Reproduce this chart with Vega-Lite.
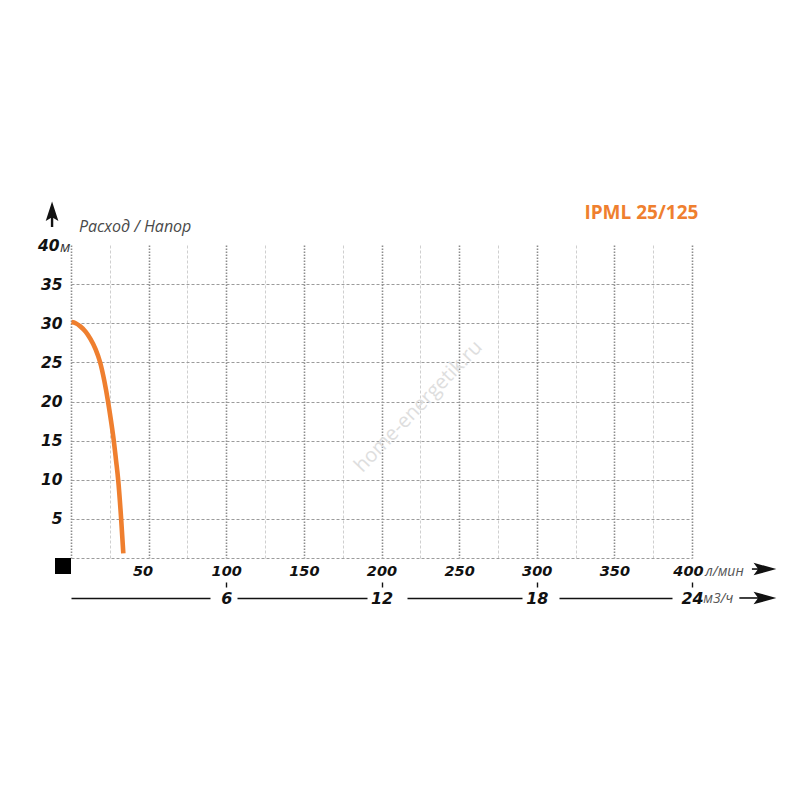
{
  "$schema": "https://vega.github.io/schema/vega-lite/v6.json",
  "width": 621,
  "height": 313,
  "autosize": {"type": "none"},
  "padding": {"left": 71, "top": 245, "right": 108, "bottom": 242},
  "background": "white",
  "config": {
    "view": {"stroke": null},
    "axis": {"labelFont": "DejaVu Sans", "labelFontWeight": "bold", "labelFontStyle": "italic", "labelFontSize": 14.5, "labelColor": "#111111"}
  },
  "resolve": {"axis": {"x": "independent", "y": "independent"}},
  "layer": [
    {
      "data": {"values": [
        {"q": 0.3, "h": 30.15},
        {"q": 3, "h": 30.0},
        {"q": 6, "h": 29.6},
        {"q": 9.5, "h": 28.9},
        {"q": 12.5, "h": 28.0},
        {"q": 15.8, "h": 26.7},
        {"q": 18.7, "h": 25.05},
        {"q": 21.5, "h": 22.6},
        {"q": 23.8, "h": 20.06},
        {"q": 25.8, "h": 17.5},
        {"q": 27.5, "h": 15.08},
        {"q": 29.0, "h": 12.5},
        {"q": 30.4, "h": 9.97},
        {"q": 32.3, "h": 5.0},
        {"q": 33.7, "h": 0.6}
      ]},
      "mark": {"type": "line", "color": "#EF7F2F", "strokeWidth": 4.6, "interpolate": "monotone", "strokeCap": "butt"},
      "encoding": {
        "x": {
          "field": "q", "type": "quantitative",
          "scale": {"domain": [0, 400], "nice": false},
          "axis": {
            "orient": "bottom",
            "values": [0, 25, 50, 75, 100, 125, 150, 175, 200, 225, 250, 275, 300, 325, 350, 375, 400],
            "grid": true, "domain": false, "ticks": false, "tickSize": 0, "labelPadding": 6,
            "labelExpr": "datum.value % 50 === 0 && datum.value > 0 ? datum.label : ''",
            "gridColor": {"condition": {"test": "datum.value % 50 === 0", "value": "#8c8c8c"}, "value": "#cfcfcf"},
            "gridDash": {"condition": {"test": "datum.value % 50 === 0", "value": [1.6, 1.4]}, "value": [3, 2]},
            "gridWidth": {"condition": {"test": "datum.value % 50 === 0", "value": 1.6}, "value": 1},
            "labelOffset": {"condition": [{"test": "datum.value === 50", "value": -6}, {"test": "datum.value === 400", "value": -4}], "value": 0},
            "labelOverlap": false, "labelBound": false, "labelFlush": false,
            "title": null
          }
        },
        "y": {
          "field": "h", "type": "quantitative",
          "scale": {"domain": [0, 40], "nice": false},
          "axis": {
            "values": [0, 5, 10, 15, 20, 25, 30, 35, 40],
            "grid": true, "gridColor": "#9b9b9b", "gridDash": [3, 2], "gridWidth": 1,
            "gridOpacity": {"condition": {"test": "datum.value === 40", "value": 0}, "value": 1},
            "domain": false, "ticks": false, "tickSize": 0,
            "labelFontSize": 15.5,
            "labelPadding": {"condition": {"test": "datum.value === 40", "value": 12}, "value": 9},
            "labelExpr": "datum.value > 0 ? datum.label : ''",
            "labelBaseline": "middle", "labelOverlap": false, "labelBound": false, "labelFlush": false,
            "title": null
          }
        }
      }
    },
    {
      "data": {"values": [{"q": 100}, {"q": 200}, {"q": 300}, {"q": 400}]},
      "mark": {"type": "point", "opacity": 0},
      "encoding": {
        "x": {
          "field": "q", "type": "quantitative",
          "axis": {
            "orient": "bottom", "offset": 24, "values": [100, 200, 300, 400],
            "grid": false, "domain": false, "ticks": true, "tickSize": 5, "tickWidth": 1.4, "tickColor": "#111111",
            "labels": false, "title": null
          }
        }
      }
    },
    {
      "data": {"values": [{"q": 100}, {"q": 200}, {"q": 300}, {"q": 400}]},
      "mark": {"type": "point", "opacity": 0},
      "encoding": {
        "x": {
          "field": "q", "type": "quantitative",
          "axis": {
            "orient": "bottom", "offset": 40, "values": [100, 200, 300, 400],
            "grid": false, "domain": true, "domainColor": "#111111", "domainWidth": 1.6,
            "domainDash": [139, 27, 130, 40, 115, 37, 113, 40],
            "ticks": false, "tickSize": 0, "labelPadding": 0, "labelBaseline": "middle", "labelFontSize": 16,
            "labelExpr": "format(datum.value * 0.06, 'd')",
            "labelOverlap": false, "labelBound": false, "labelFlush": false,
            "title": null
          }
        }
      }
    },
    {
      "data": {"values": [{}]},
      "mark": {"type": "text", "text": "IPML 25/125", "font": "Open Sans", "fontWeight": "bold", "fontSize": 19, "color": "#EF7F2F", "align": "right", "baseline": "alphabetic"},
      "encoding": {"x": {"datum": 404.1, "axis": null}, "y": {"datum": 43.32, "axis": null}}
    },
    {
      "data": {"values": [{}]},
      "mark": {"type": "text", "text": "Расход / Напор", "font": "Open Sans", "fontStyle": "italic", "fontSize": 16, "color": "#4a4a4a", "align": "left", "baseline": "alphabetic"},
      "encoding": {"x": {"datum": 5.15, "axis": null}, "y": {"datum": 41.72, "axis": null}}
    },
    {
      "data": {"values": [{}]},
      "mark": {"type": "text", "text": "м", "font": "Open Sans", "fontStyle": "italic", "fontSize": 15, "color": "#333333", "align": "left", "baseline": "alphabetic"},
      "encoding": {"x": {"datum": -7.1, "axis": null}, "y": {"datum": 39.1, "axis": null}}
    },
    {
      "data": {"values": [{}]},
      "mark": {"type": "text", "text": "л/мин", "font": "Open Sans", "fontStyle": "italic", "fontSize": 14, "color": "#555555", "align": "left", "baseline": "alphabetic"},
      "encoding": {"x": {"datum": 408.5, "axis": null}, "y": {"datum": -2.3, "axis": null}}
    },
    {
      "data": {"values": [{}]},
      "mark": {"type": "text", "text": "м3/ч", "font": "Open Sans", "fontStyle": "italic", "fontSize": 14, "color": "#555555", "align": "left", "baseline": "alphabetic"},
      "encoding": {"x": {"datum": 407.2, "axis": null}, "y": {"datum": -5.75, "axis": null}}
    },
    {
      "data": {"values": [{}]},
      "mark": {"type": "rule", "color": "#111111", "strokeWidth": 1.6},
      "encoding": {"x": {"datum": 438.6, "axis": null}, "x2": {"datum": 446.0}, "y": {"datum": -1.41, "axis": null}}
    },
    {
      "data": {"values": [{}]},
      "mark": {"type": "rule", "color": "#111111", "strokeWidth": 1.6},
      "encoding": {"x": {"datum": 430.5, "axis": null}, "x2": {"datum": 446.0}, "y": {"datum": -5.11, "axis": null}}
    },
    {
      "data": {"values": [{}]},
      "mark": {"type": "point", "shape": "M1,0L-1,-0.55L-0.6,0L-1,0.55Z", "filled": true, "size": 520, "color": "#111111", "opacity": 1},
      "encoding": {"x": {"datum": 447.0, "axis": null}, "y": {"datum": -1.41, "axis": null}}
    },
    {
      "data": {"values": [{}]},
      "mark": {"type": "point", "shape": "M1,0L-1,-0.55L-0.6,0L-1,0.55Z", "filled": true, "size": 520, "color": "#111111", "opacity": 1},
      "encoding": {"x": {"datum": 447.0, "axis": null}, "y": {"datum": -5.11, "axis": null}}
    },
    {
      "data": {"values": [{}]},
      "mark": {"type": "point", "shape": "square", "filled": true, "size": 256, "color": "#000000", "opacity": 1},
      "encoding": {"x": {"datum": -5.15, "axis": null}, "y": {"datum": -1.02, "axis": null}}
    },
    {
      "data": {"values": [{}]},
      "mark": {"type": "rule", "color": "#111111", "strokeWidth": 2.4},
      "encoding": {"x": {"datum": -12.2, "axis": null}, "y": {"datum": 42.3, "axis": null}, "y2": {"datum": 43.8}}
    },
    {
      "data": {"values": [{}]},
      "mark": {"type": "point", "shape": "M0,-1L0.65,1L0,0.6L-0.65,1Z", "filled": true, "size": 380, "color": "#111111", "opacity": 1},
      "encoding": {"x": {"datum": -12.2, "axis": null}, "y": {"datum": 44.3, "axis": null}}
    },
    {
      "data": {"values": [{}]},
      "mark": {"type": "text", "text": "home-energetik.ru", "font": "Open Sans", "fontSize": 20, "color": "#dedede", "align": "center", "baseline": "middle", "angle": -46},
      "encoding": {"x": {"datum": 223.8, "axis": null}, "y": {"datum": 19.36, "axis": null}}
    }
  ]
}
